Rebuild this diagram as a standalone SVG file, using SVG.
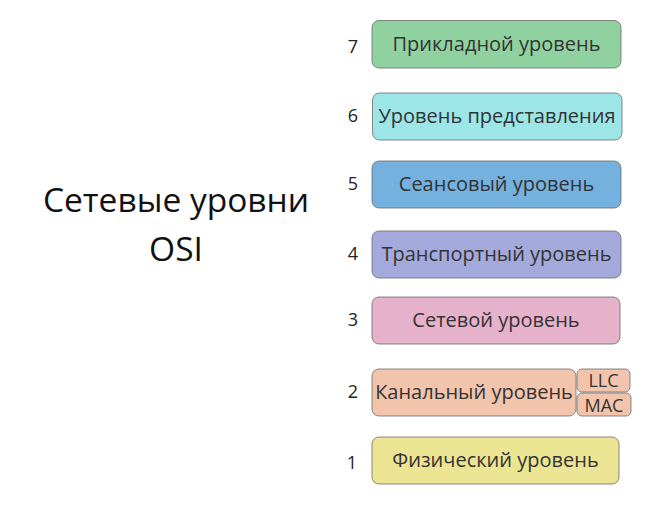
<svg xmlns="http://www.w3.org/2000/svg" width="659" height="506" viewBox="0 0 659 506">
<style>
.box{stroke:#6b6b6b;stroke-width:0.8}
.lbl{font-family:"Open Sans","Noto Sans",sans-serif;font-size:20px;fill:#333;text-anchor:middle}
.num{font-family:"Open Sans","Noto Sans",sans-serif;font-size:18px;fill:#222;text-anchor:middle}
.sub{font-family:"Open Sans","Noto Sans",sans-serif;font-size:18px;fill:#333;text-anchor:middle}
.title{font-family:"Open Sans","Noto Sans",sans-serif;font-size:33.5px;fill:#111;text-anchor:middle}
</style>
<rect width="659" height="506" fill="#fff"/>
<g id="title"><text class="title" x="176" y="212">Сетевые уровни</text><text class="title" x="176" y="261">OSI</text></g>
<g id="layer7"><text class="num" x="353" y="53">7</text><rect class="box" x="372" y="20.5" width="249" height="47.5" rx="7" fill="#8fd2a0"/><text class="lbl" x="496.5" y="51">Прикладной уровень</text></g>
<g id="layer6"><text class="num" x="353" y="122">6</text><rect class="box" x="372.5" y="93" width="249.5" height="47" rx="7" fill="#9ce6e8"/><text class="lbl" x="497" y="123">Уровень представления</text></g>
<g id="layer5"><text class="num" x="353" y="190">5</text><rect class="box" x="372" y="161" width="249" height="47" rx="7" fill="#74b1de"/><text class="lbl" x="496.5" y="191">Сеансовый уровень</text></g>
<g id="layer4"><text class="num" x="353" y="260">4</text><rect class="box" x="372" y="231" width="249" height="47" rx="7" fill="#a4a9dc"/><text class="lbl" x="496.5" y="261">Транспортный уровень</text></g>
<g id="layer3"><text class="num" x="353" y="326">3</text><rect class="box" x="372" y="297" width="248" height="47" rx="7" fill="#e6b1ca"/><text class="lbl" x="496" y="327">Сетевой уровень</text></g>
<g id="layer2"><text class="num" x="353" y="398">2</text><rect class="box" x="372" y="369" width="204" height="47" rx="7" fill="#f2c4ac"/><text class="lbl" x="474" y="399">Канальный уровень</text>
<rect class="box" x="577" y="369" width="53" height="23" rx="5" fill="#f2c4ac"/><text class="sub" x="603.5" y="387">LLC</text>
<rect class="box" x="577" y="393" width="54" height="23" rx="5" fill="#f2c4ac"/><text class="sub" x="604" y="411.5">MAC</text></g>
<g id="layer1"><text class="num" x="352" y="469">1</text><rect class="box" x="372" y="437" width="247" height="47" rx="7" fill="#ebe593"/><text class="lbl" x="495.5" y="467">Физический уровень</text></g>
</svg>
